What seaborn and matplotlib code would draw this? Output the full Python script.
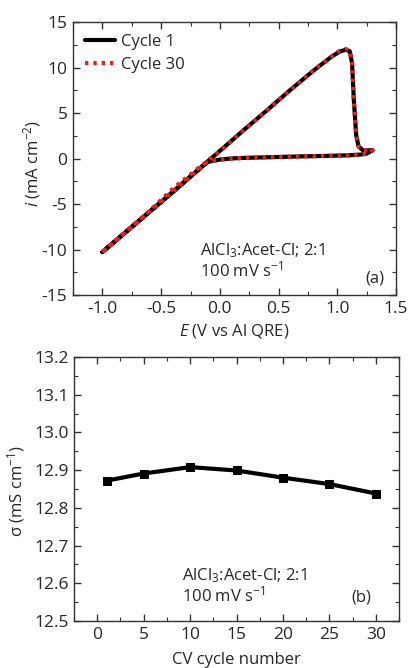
import numpy as np
import pandas as pd
import matplotlib
matplotlib.use("Agg")
import matplotlib.pyplot as plt
from matplotlib.ticker import MultipleLocator, FormatStrFormatter
import seaborn as sns

# ---- data: panel (a) cyclic voltammograms ----
e_cycle1 = [-1.00, -0.80, -0.60, -0.40, -0.20, -0.11, 0.00, 0.20, 0.40, 0.60, 0.80, 0.95,
            1.02, 1.07, 1.105, 1.125, 1.14, 1.16, 1.18, 1.22, 1.30, 1.25, 1.20, 1.10,
            0.90, 0.70, 0.40, 0.20, 0.10, 0.00, -0.08, -0.11, -0.20, -0.40, -0.60, -0.80, -1.00]
i_cycle1 = [-10.25, -8.05, -5.85, -3.65, -1.40, -0.37, 0.85, 3.10, 5.30, 7.55, 9.70, 11.20,
            11.75, 11.95, 11.80, 10.50, 6.50, 2.60, 1.35, 0.90, 0.92, 0.55, 0.45, 0.37,
            0.30, 0.25, 0.15, 0.08, 0.02, -0.10, -0.30, -0.40, -1.40, -3.65, -5.85, -8.05, -10.25]
e_cycle30 = [-1.00, -0.80, -0.60, -0.40, -0.20, -0.11, 0.00, 0.20, 0.40, 0.60, 0.80, 0.95,
             1.02, 1.07, 1.105, 1.125, 1.14, 1.16, 1.18, 1.22, 1.30, 1.25, 1.20, 1.10,
             0.90, 0.70, 0.40, 0.20, 0.10, 0.00, -0.08, -0.11, -0.20, -0.40, -0.60, -0.80, -1.00]
i_cycle30 = [-10.25, -8.00, -5.75, -3.30, -1.20, -0.30, 0.85, 3.10, 5.30, 7.55, 9.70, 11.20,
             11.85, 12.05, 11.85, 10.50, 6.50, 2.60, 1.35, 0.90, 0.95, 0.55, 0.45, 0.37,
             0.30, 0.25, 0.15, 0.08, 0.02, -0.10, -0.30, -0.40, -1.40, -3.65, -5.85, -8.05, -10.25]

# ---- data: panel (b) conductivity vs cycle ----
cycles = [1, 5, 10, 15, 20, 25, 30]
sigma = [12.872, 12.891, 12.908, 12.899, 12.880, 12.863, 12.838]

sns.set_style("ticks")
plt.rcParams['font.family'] = ['Open Sans', 'DejaVu Sans']
plt.rcParams['mathtext.fontset'] = 'custom'
plt.rcParams['mathtext.rm'] = 'Open Sans'
plt.rcParams['mathtext.it'] = 'Open Sans:italic'
plt.rcParams['axes.edgecolor'] = '#333333'
plt.rcParams['axes.linewidth'] = 1.0

fig = plt.figure(figsize=(4.09, 6.68), dpi=100)
ax1 = fig.add_axes([0.1785, 0.558, 0.790, 0.409])
ax2 = fig.add_axes([0.181, 0.0704, 0.7946, 0.3952])

df1 = pd.DataFrame({"E": e_cycle1, "i": i_cycle1})
df30 = pd.DataFrame({"E": e_cycle30, "i": i_cycle30})
sns.lineplot(data=df1, x="E", y="i", sort=False, estimator=None, ax=ax1,
             color="black", linewidth=3.0, label="Cycle 1")
sns.lineplot(data=df30, x="E", y="i", sort=False, estimator=None, ax=ax1,
             color="#e8201c", linewidth=3.0, linestyle=(0, (0.8, 1.2)), label="Cycle 30")

ax1.set_xlim(-1.25, 1.5)
ax1.set_ylim(-15, 15)
ax1.set_xticks([-1.0, -0.5, 0.0, 0.5, 1.0, 1.5])
ax1.set_xticklabels(["-1.0", "-0.5", "0.0", "0.5", "1.0", "1.5"])
ax1.set_yticks([-15, -10, -5, 0, 5, 10, 15])
ax1.set_yticklabels(["-15", "-10", "-5", "0", "5", "10", "15"])
ax1.xaxis.set_minor_locator(MultipleLocator(0.25))
ax1.yaxis.set_minor_locator(MultipleLocator(2.5))
ax1.set_xlabel(r"$\it{E}$ (V vs Al QRE)", fontsize=12)
ax1.set_ylabel(r"$\it{i}$ (mA cm$^{-2}$)", fontsize=12)
ax1.xaxis.set_label_coords(0.5, -0.098)
ax1.yaxis.set_label_coords(-0.093, 0.483)
ax1.legend(loc="upper left", frameon=False, fontsize=12, handlelength=1.8,
           handletextpad=0.35, borderaxespad=0.3, labelspacing=0.45)
ax1.text(0.393, 0.146, "AlCl$_3$:Acet-Cl; 2:1", transform=ax1.transAxes, fontsize=12)
ax1.text(0.393, 0.068, "100 mV s$^{-1}$", transform=ax1.transAxes, fontsize=12)
ax1.text(0.905, 0.046, "(a)", transform=ax1.transAxes, fontsize=12)

df2 = pd.DataFrame({"cycle": cycles, "sigma": sigma})
sns.lineplot(data=df2, x="cycle", y="sigma", ax=ax2, color="black", linewidth=3.0,
             marker="s", markersize=5.5, markeredgecolor="black")
ax2.set_xlim(-2.5, 32.5)
ax2.set_ylim(12.5, 13.2)
ax2.xaxis.set_major_locator(MultipleLocator(5))
ax2.xaxis.set_minor_locator(MultipleLocator(2.5))
ax2.yaxis.set_major_locator(MultipleLocator(0.1))
ax2.yaxis.set_minor_locator(MultipleLocator(0.05))
ax2.yaxis.set_major_formatter(FormatStrFormatter("%.1f"))
ax2.set_xlabel("CV cycle number", fontsize=12)
ax2.set_ylabel("σ (mS cm$^{-1}$)", fontsize=12)
ax2.xaxis.set_label_coords(0.5, -0.118)
ax2.yaxis.set_label_coords(-0.145, 0.49)
ax2.text(0.331, 0.155, "AlCl$_3$:Acet-Cl; 2:1", transform=ax2.transAxes, fontsize=12)
ax2.text(0.331, 0.073, "100 mV s$^{-1}$", transform=ax2.transAxes, fontsize=12)
ax2.text(0.854, 0.073, "(b)", transform=ax2.transAxes, fontsize=12)

for ax in (ax1, ax2):
    ax.tick_params(which="both", direction="in", top=True, right=True,
                   color="#333333", labelsize=12.5, pad=4)
    ax.tick_params(which="major", length=5, width=1)
    ax.tick_params(which="minor", length=3, width=0.8)
    for s in ax.spines.values():
        s.set_visible(True)

fig.savefig("out.png", dpi=100)
